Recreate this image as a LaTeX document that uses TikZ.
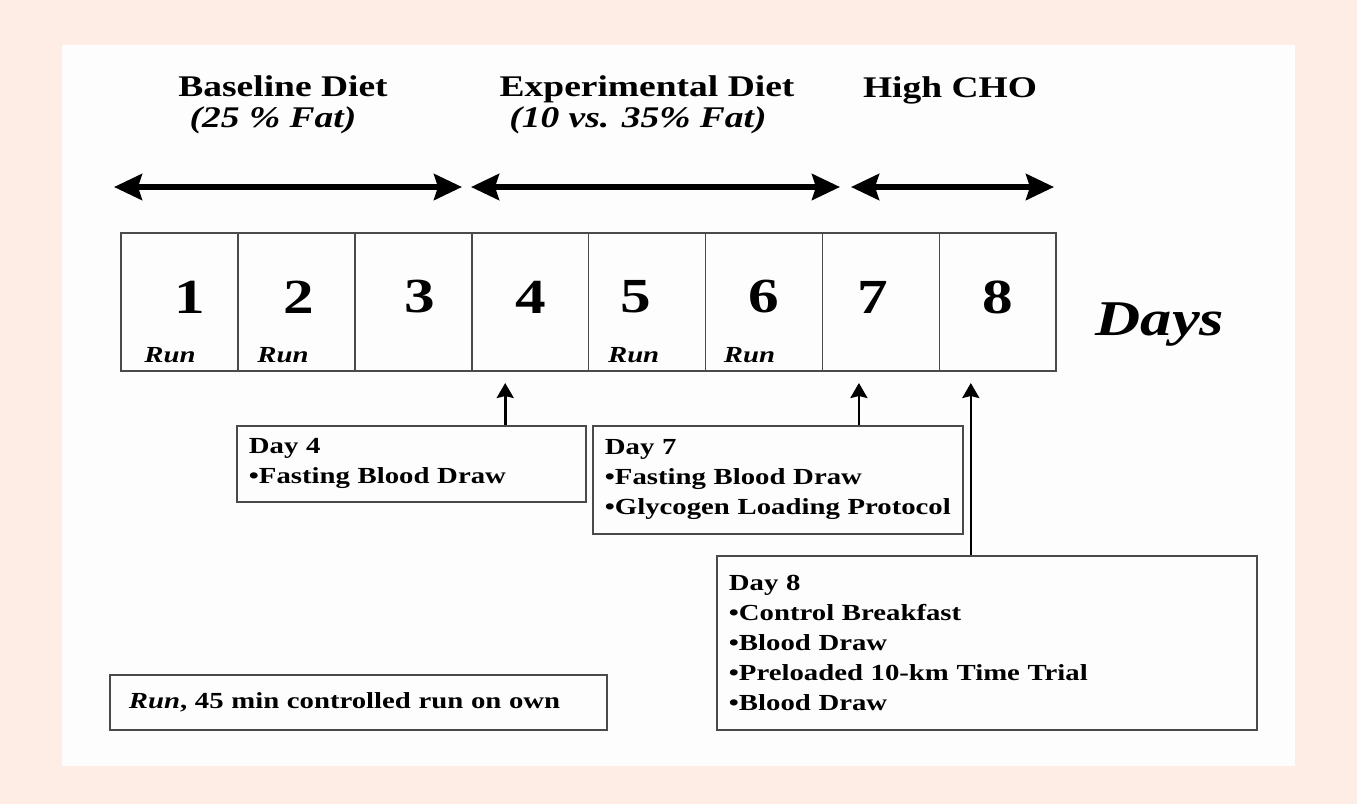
\documentclass[tikz,border=0pt]{standalone}
\usepackage{fontspec}
\setmainfont{Liberation Serif}[FakeStretch=1.25]
\usepackage{tikz}
\usetikzlibrary{arrows.meta,positioning,calc}
\definecolor{peach}{HTML}{FDEDE4}
\definecolor{paper}{HTML}{FDFDFD}
\definecolor{rule}{HTML}{4A4A4A}

\begin{document}
\begin{tikzpicture}[
    x=1pt, y=-1pt,
    cell/.style={rectangle, draw=rule, line width=1.6pt, minimum width=116.9pt, minimum height=138pt, outer sep=0pt, inner sep=0pt},
    num/.style={font=\fontsize{49}{49}\selectfont\bfseries, inner sep=0pt},
    runlbl/.style={font=\fontsize{23}{23}\selectfont\bfseries\itshape, inner sep=0pt, anchor=base},
    head/.style={font=\fontsize{30}{31}\selectfont\bfseries, align=center, inner sep=0pt},
    note/.style={rectangle, draw=rule, line width=1.8pt, anchor=north west, align=left, inner xsep=12pt, inner ysep=0pt, font=\fontsize{23}{30}\selectfont\bfseries},
    period/.style={{Stealth[length=28pt,width=26pt,inset=4pt]}-{Stealth[length=28pt,width=26pt,inset=4pt]}, line width=5.5pt},
    arrow/.style={-{Stealth[length=15pt,width=17pt,inset=2pt]}, line width=2.6pt}
]
    % background and frame
    \useasboundingbox (0,0) rectangle (1357,804);
    \fill[peach] (0,0) rectangle (1357,804);
    \fill[paper] (62,45) rectangle (1295,766);

    % diet periods
    \node[head] (base) at (283,105) {Baseline Diet\\\textit{(25 \% Fat)}\hspace*{20pt}};
    \node[head] (expt) at (647,105) {Experimental Diet\\\textit{(10 vs. 35\% Fat)}\hspace*{18pt}};
    \node[head, anchor=base] (cho) at (950,97) {High CHO};

    \coordinate (p0) at (114,187);
    \coordinate (p1) at (462,187);
    \coordinate (p2) at (471,187);
    \coordinate (p3) at (840,187);
    \coordinate (p4) at (851,187);
    \coordinate (p5) at (1054,187);
    \draw[period] (p0) -- (p1);
    \draw[period] (p2) -- (p3);
    \draw[period] (p4) -- (p5);

    % days
    \node[cell] (d1) at (179.5,302) {};
    \node[cell, right=0pt of d1] (d2) {};
    \node[cell, right=0pt of d2] (d3) {};
    \node[cell, right=0pt of d3] (d4) {};
    \node[cell, right=0pt of d4] (d5) {};
    \node[cell, right=0pt of d5] (d6) {};
    \node[cell, right=0pt of d6] (d7) {};
    \node[cell, right=0pt of d7] (d8) {};

    \node[num] (n1) at ($(d1.center)+(10,-5)$) {1};
    \node[num] (n2) at ($(d2.center)+(2,-5)$) {2};
    \node[num] (n3) at ($(d3.center)+(7,-5)$) {3};
    \node[num] (n4) at ($(d4.center)+(1,-5)$) {4};
    \node[num] (n5) at ($(d5.center)+(-11,-5)$) {5};
    \node[num] (n6) at ($(d6.center)+(0,-5)$) {6};
    \node[num] (n7) at ($(d7.center)+(-8,-5)$) {7};
    \node[num] (n8) at ($(d8.center)+(0,-5)$) {8};

    \node[runlbl] (r1) at ($(d1.south west)+(49,-9)$) {Run};
    \node[runlbl] (r2) at ($(d2.south west)+(45,-9)$) {Run};
    \node[runlbl] (r5) at ($(d5.south west)+(45,-9)$) {Run};
    \node[runlbl] (r6) at ($(d6.south west)+(44,-9)$) {Run};

    \node[font=\fontsize{50}{50}\selectfont\bfseries\itshape, anchor=base] (days) at (1160,335) {Days};

    % test days
    \node[note, text width=325pt, minimum height=76pt] (day4) at (236,425)
        {Day 4\\\textbullet Fasting Blood Draw};
    \node[note, text width=346pt, minimum height=108pt] (day7) at (592,425)
        {Day 7\\\textbullet Fasting Blood Draw\\\textbullet Glycogen Loading Protocol};
    \node[note, text width=516pt, minimum height=174pt] (day8) at (716,555)
        {Day 8\\\textbullet Control Breakfast\\\textbullet Blood Draw\\\textbullet Preloaded 10-km Time Trial\\\textbullet Blood Draw};

    \coordinate (t4) at ($(d4.south)+(-25,12)$);
    \coordinate (t7) at ($(d7.south)+(-22,12)$);
    \coordinate (t8) at ($(d8.south)+(-27,12)$);
    \draw[arrow] (day4.north -| t4) -- (t4);
    \draw[arrow] (day7.north -| t7) -- (t7);
    \draw[arrow] (day8.north -| t8) -- (t8);

    % legend
    \node[note, inner xsep=19pt, text width=459pt, minimum height=55pt] (key) at (109,674)
        {\textit{Run}, 45 min controlled run on own};
\end{tikzpicture}
\end{document}
